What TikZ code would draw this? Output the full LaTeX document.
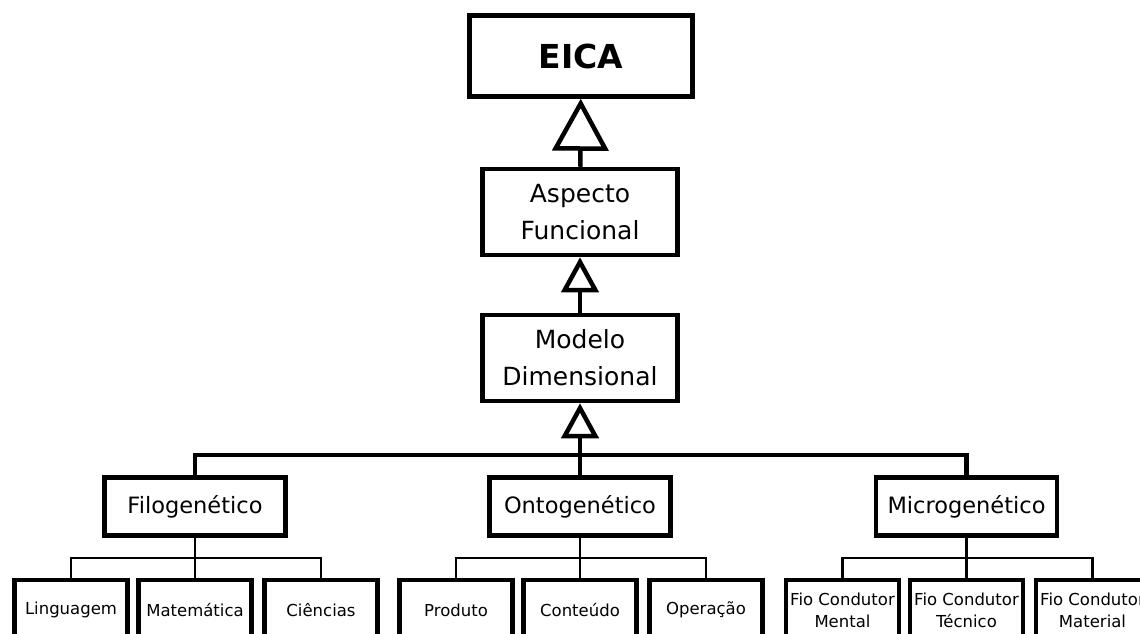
\documentclass[tikz,border=0pt]{standalone}
\usepackage{fontspec}
\setmainfont{DejaVu Sans}
\usetikzlibrary{arrows.meta}

\begin{document}
\begin{tikzpicture}[x=1pt,y=-1pt,
  boxbase/.style={draw, line width=4.5pt, inner sep=0pt, align=center},
  topbox/.style={boxbase, minimum width=223pt, minimum height=81pt,
    font=\bfseries\fontsize{33}{40}\selectfont},
  midbox/.style={boxbase, minimum width=195pt, minimum height=86pt,
    font=\fontsize{25}{37}\selectfont},
  catbox/.style={boxbase, minimum width=181pt, minimum height=58pt,
    font=\fontsize{22.5}{26}\selectfont},
  leafbox/.style={boxbase, minimum width=113pt, minimum height=60pt,
    font=\fontsize{16.5}{22}\selectfont},
  link/.style={line width=4.5pt},
  twig/.style={line width=2.5pt},
  bigtri/.style={link, -{Triangle[open, length=52pt, width=56pt]}},
  smalltri/.style={link, -{Triangle[open, length=35pt, width=37pt]}},
]
% page frame
\clip (0,0) rectangle (1140,633);
\fill[white] (0,0) rectangle (1140,633);

% main chain
\node[topbox] (eica) at (581,56) {EICA};
\node[midbox] (asp) at (580,212) {Aspecto\\Funcional};
\node[midbox] (mod) at (580,358) {Modelo\\Dimensional};

% second level
\node[catbox] (filo)  at (195,506.5) {Filogenético};
\node[catbox] (onto)  at (580,506.5) {Ontogenético};
\node[catbox] (micro) at (966.5,506.5) {Microgenético};

% leaves
\node[leafbox] (ling) at (71,610)  {Linguagem};
\node[leafbox] (mat)  at (195,610) {Matemática};
\node[leafbox] (cie)  at (321,610) {Ciências};
\node[leafbox] (prod) at (456,610) {Produto};
\node[leafbox] (cont) at (580,610) {Conteúdo};
\node[leafbox] (oper) at (706,610) {Operação};
\node[leafbox] (ment) at (842.5,610)  {Fio Condutor\\Mental};
\node[leafbox] (tecn) at (966.5,610)  {Fio Condutor\\Técnico};
\node[leafbox] (matr) at (1092.5,610) {Fio Condutor\\Material};

% generalisation arrows
\draw[bigtri]   (asp)  -- (eica);
\draw[smalltri] (mod)  -- (asp);
\draw[smalltri] (onto) -- (mod);

% bus joining the three categories
\coordinate (bus) at (580,455);
\draw[link] (filo.north) |- (bus) -| (micro.north);

% branches to the leaves
\coordinate (fbar) at (195,558);
\coordinate (obar) at (580,558);
\coordinate (mbar) at (966.5,558);
\draw[twig] (filo.south) -- (mat.north);
\draw[twig] (ling.north) |- (fbar) -| (cie.north);
\draw[twig] (onto.south) -- (cont.north);
\draw[twig] (prod.north) |- (obar) -| (oper.north);
\draw[twig] (micro.south) -- (tecn.north);
\draw[twig] (ment.north) |- (mbar) -| (matr.north);
\end{tikzpicture}
\end{document}
